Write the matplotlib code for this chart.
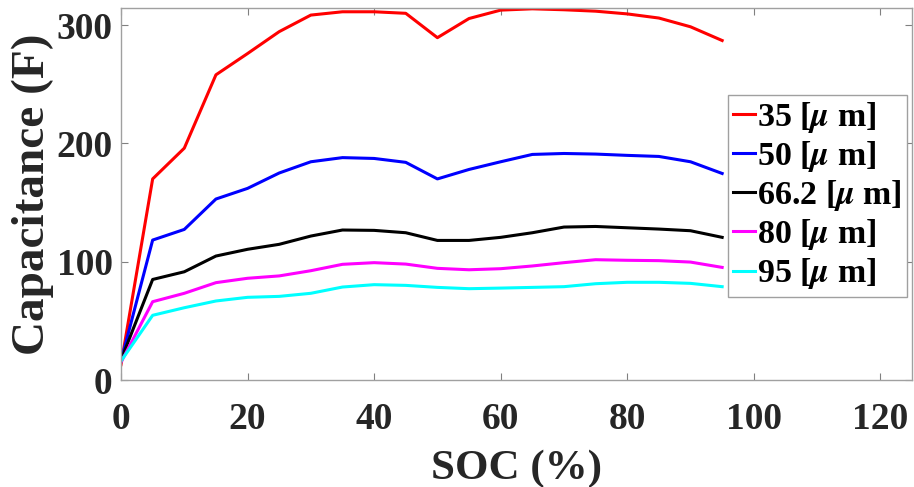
import numpy as np
import matplotlib
matplotlib.use("Agg")
import matplotlib.pyplot as plt

plt.rcParams['font.family'] = ['Liberation Serif', 'DejaVu Serif']
plt.rcParams['font.weight'] = 'bold'
plt.rcParams['mathtext.fontset'] = 'stix'

soc = [0, 5, 10, 15, 20, 25, 30, 35, 40, 45, 50, 55, 60, 65, 70, 75, 80, 85, 90, 95]

cap_35 = [13, 170, 196, 258, 276, 294.5, 308.5, 311.3, 311.3, 310, 289.4, 305.6,
          312.7, 313.8, 313, 311.8, 309.5, 306, 298.6, 287]
cap_50 = [16, 118.3, 127.3, 153, 162, 175, 184.5, 188, 187.3, 184, 170, 178,
          184.5, 190.7, 191.5, 191, 189.9, 189, 184.5, 174.6]
cap_66 = [17, 85, 91.5, 104.8, 110.5, 114.7, 121.7, 126.8, 126.5, 124.5, 118, 118,
          120.6, 124.5, 129.3, 129.8, 128.7, 127.6, 126.2, 120.6]
cap_80 = [15, 66.2, 73.3, 82.3, 86, 88, 92.4, 97.8, 99.2, 98, 94.4, 93.2,
          94.1, 96.4, 99.2, 101.7, 101.2, 100.9, 99.7, 95.2]
cap_95 = [16, 54.7, 61.1, 66.8, 69.9, 70.7, 73.3, 78.6, 80.6, 80, 78.3, 77.2,
          77.7, 78.3, 78.9, 81.4, 82.6, 82.6, 81.7, 78.9]

labels = [r'35 [$\mu$ m]', r'50 [$\mu$ m]', r'66.2 [$\mu$ m]', r'80 [$\mu$ m]', r'95 [$\mu$ m]']
colors = ['#ff0000', '#0000ff', '#000000', '#ff00ff', '#00ffff']

fig = plt.figure(figsize=(9.14, 4.87), dpi=100)
ax = fig.add_axes([0.1324, 0.2197, 0.8654, 0.7639])

for y, lab, c in zip([cap_35, cap_50, cap_66, cap_80, cap_95], labels, colors):
    ax.plot(soc, y, color=c, lw=2.2, label=lab)

ax.set_xlim(0, 125)
ax.set_ylim(0, 314.5)
ax.set_xticks([0, 20, 40, 60, 80, 100, 120])
ax.set_yticks([0, 100, 200, 300])

txt = '#262626'
for s in ax.spines.values():
    s.set_color('#a0a0a0')
    s.set_linewidth(1.0)
ax.tick_params(direction='in', top=True, right=True, length=5, width=0.8,
               color='#808080', labelsize=27, labelcolor=txt)
ax.tick_params(axis='x', pad=16)
ax.tick_params(axis='y', pad=6)
for t in ax.get_xticklabels() + ax.get_yticklabels():
    t.set_fontweight('bold')

ax.set_xlabel('SOC (%)', fontsize=31, fontweight='bold', color=txt, labelpad=9)
ax.set_ylabel('Capacitance (F)', fontsize=34, fontweight='bold', color=txt, labelpad=2)

leg = ax.legend(loc='upper right', bbox_to_anchor=(0.9937, 0.766),
                handlelength=0.65, handletextpad=0.05, labelspacing=0.12,
                borderpad=0.15, borderaxespad=0, fancybox=False, framealpha=1,
                edgecolor='#a0a0a0', prop={'weight': 'bold', 'size': 24.5})
leg.get_frame().set_linewidth(1.0)

fig.savefig('out.png', dpi=100)
